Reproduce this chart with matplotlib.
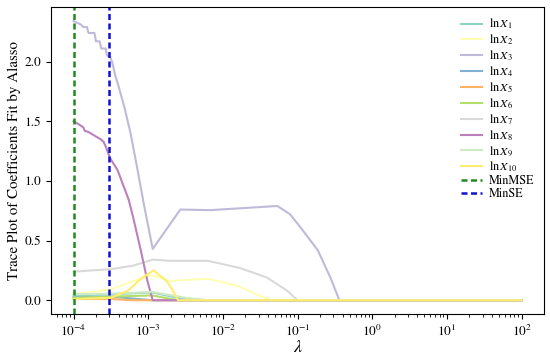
import numpy as np
import matplotlib
matplotlib.use('Agg')
import matplotlib.pyplot as plt

plt.rcParams['font.family'] = 'serif'
plt.rcParams['font.serif'] = ['STIXGeneral', 'Liberation Serif', 'DejaVu Serif']
plt.rcParams['mathtext.fontset'] = 'stix'

# log10(lambda) knots and coefficient values
labels = [r'$\ln X_{%d}$' % i for i in range(1, 11)]
colors = ['#8dd3c7', '#ffffb3', '#bebada', '#80b1d3', '#fdb462',
          '#b3de69', '#d9d9d9', '#bc80bd', '#ccebc5', '#ffed6f']

lg_x1 = [-4.0, -3.5, -2.95, -2.6, -2.3, 2.0]
val_x1 = [0.04, 0.05, 0.065, 0.02, 0.0, 0.0]

lg_x2 = [-4.0, -3.5, -3.25, -2.95, -2.7, -2.5, -2.2, -1.8, -1.55, -1.36, 2.0]
val_x2 = [0.05, 0.09, 0.15, 0.21, 0.16, 0.17, 0.18, 0.12, 0.05, 0.0, 0.0]

lg_x3 = [-4.0, -3.9, -3.87, -3.82, -3.80, -3.72, -3.70, -3.65, -3.63, -3.57, -3.55,
         -3.51, -3.48, -3.44, -3.40, -3.32, -3.24, -3.16, -3.06, -3.0, -2.94,
         -2.57, -2.17, -1.27, -1.1, -0.96, -0.73, -0.56, -0.44, 2.0]
val_x3 = [2.34, 2.31, 2.29, 2.29, 2.24, 2.24, 2.17, 2.17, 2.11, 2.11, 2.05,
          2.04, 1.99, 1.88, 1.80, 1.62, 1.41, 1.15, 0.81, 0.62, 0.43,
          0.76, 0.755, 0.79, 0.72, 0.61, 0.42, 0.19, 0.0, 0.0]

lg_x4 = [-4.0, -3.5, -2.95, 2.0]
val_x4 = [0.025, 0.03, 0.0, 0.0]

lg_x5 = [-4.0, -3.5, -3.2, 2.0]
val_x5 = [0.01, 0.01, 0.0, 0.0]

lg_x6 = [-4.0, -3.5, -2.95, -2.6, 2.0]
val_x6 = [0.02, 0.03, 0.04, 0.0, 0.0]

lg_x7 = [-4.0, -3.5, -3.2, -2.94, -2.7, -2.2, -1.77, -1.41, -1.14, -1.0, 2.0]
val_x7 = [0.24, 0.26, 0.29, 0.34, 0.33, 0.33, 0.27, 0.19, 0.08, 0.0, 0.0]

lg_x8 = [-4.0, -3.97, -3.87, -3.85, -3.80, -3.72, -3.64, -3.60, -3.57, -3.51,
         -3.41, -3.26, -3.20, -3.10, -3.01, -2.94, -2.6, 2.0]
val_x8 = [1.50, 1.49, 1.45, 1.42, 1.41, 1.38, 1.35, 1.33, 1.29, 1.19,
          1.09, 0.84, 0.69, 0.42, 0.16, 0.0, 0.0, 0.0]

lg_x9 = [-4.0, -3.5, -2.95, -2.5, -2.2, 2.0]
val_x9 = [0.05, 0.055, 0.07, 0.02, 0.0, 0.0]

lg_x10 = [-4.0, -3.5, -3.27, -3.1, -2.93, -2.75, -2.67, -2.6, 2.0]
val_x10 = [0.01, 0.02, 0.08, 0.18, 0.25, 0.16, 0.08, 0.0, 0.0]

series_lg = [lg_x1, lg_x2, lg_x3, lg_x4, lg_x5, lg_x6, lg_x7, lg_x8, lg_x9, lg_x10]
series_val = [val_x1, val_x2, val_x3, val_x4, val_x5, val_x6, val_x7, val_x8, val_x9, val_x10]

lam_min_mse = 1e-4
lam_min_se = 3.0e-4

fig = plt.figure(figsize=(5.5, 3.55), dpi=100)
ax = fig.add_axes([0.093, 0.115, 0.896, 0.865])

for lg, val, c, lab in zip(series_lg, series_val, colors, labels):
    ax.plot(10 ** np.array(lg), val, color=c, lw=1.5, label=lab)

ax.axvline(lam_min_mse, color='#1f8a1f', ls=(0, (2.4, 1.4)), lw=1.8, label='MinMSE')
ax.axvline(lam_min_se, color='#1010d0', ls=(0, (2.4, 1.4)), lw=1.8, label='MinSE')

ax.set_xscale('log')
ax.set_xlabel(r'$\lambda$', fontsize=13, labelpad=1)
ax.set_ylabel('Trace Plot of Coefficients Fit by Alasso', fontsize=10.8, labelpad=3)
ax.tick_params(labelsize=9.5)
ax.legend(loc='upper right', frameon=False, fontsize=8.7, labelspacing=0.12,
          handlelength=1.7, handletextpad=0.6, borderaxespad=0.4)

fig.savefig('out.png', dpi=100)
